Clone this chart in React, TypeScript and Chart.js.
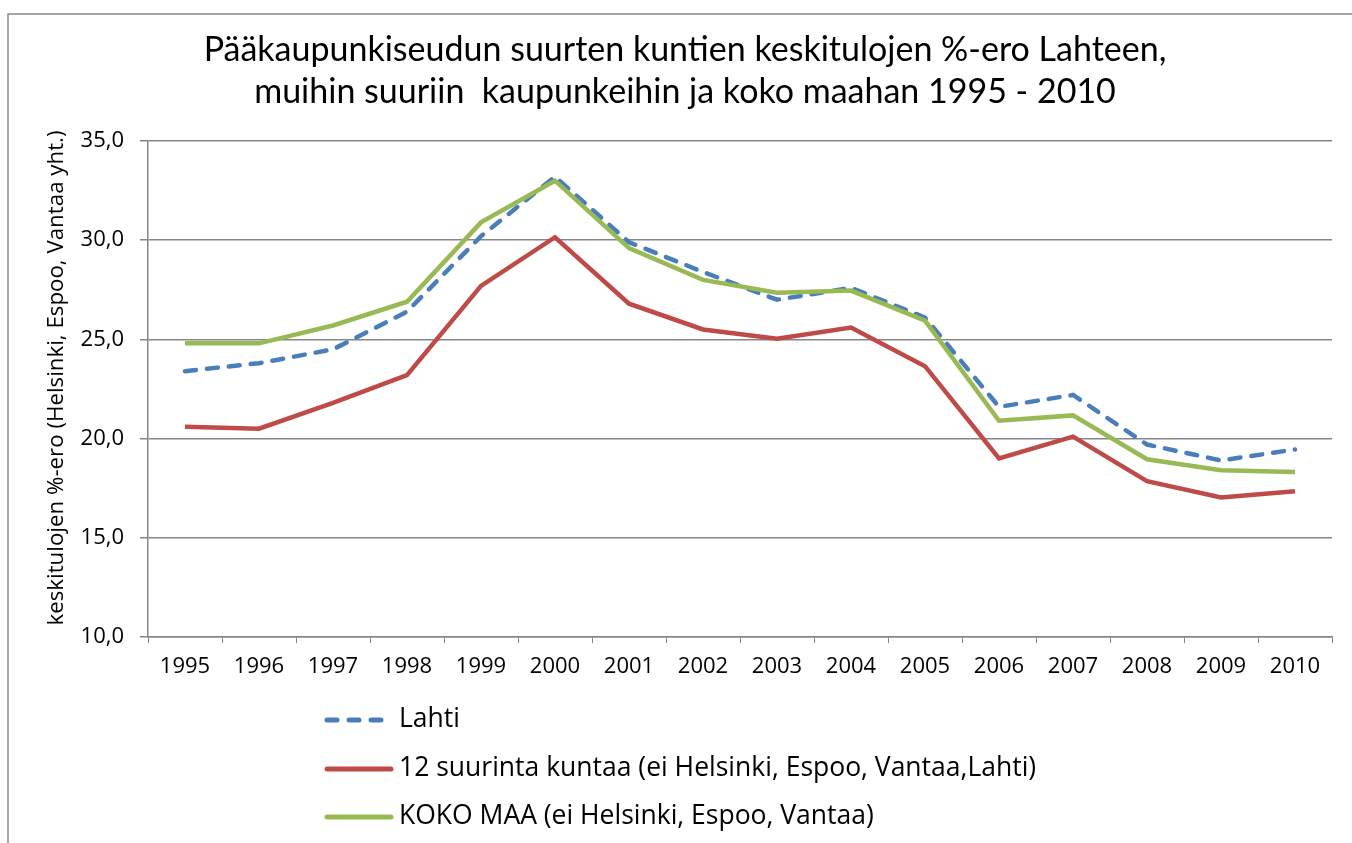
import React, { useEffect, useRef } from "react";
import { Chart, registerables } from "chart.js";

Chart.register(...registerables);

const years = ["1995","1996","1997","1998","1999","2000","2001","2002","2003","2004","2005","2006","2007","2008","2009","2010"];
const lahti = [23.4, 23.8, 24.5, 26.4, 30.2, 33.2, 29.9, 28.4, 27.0, 27.6, 26.1, 21.6, 22.2, 19.7, 18.9, 19.45];
const suurinta12 = [20.6, 20.5, 21.8, 23.2, 27.7, 30.15, 26.8, 25.5, 25.03, 25.6, 23.65, 19.0, 20.1, 17.85, 17.03, 17.35];
const kokoMaa = [24.8, 24.8, 25.7, 26.9, 30.9, 33.0, 29.6, 28.0, 27.35, 27.46, 25.95, 20.9, 21.17, 18.96, 18.4, 18.32];
const seriesLabels = [
  "Lahti",
  "12 suurinta kuntaa (ei Helsinki, Espoo, Vantaa,Lahti)",
  "KOKO MAA (ei Helsinki, Espoo, Vantaa)",
];
const titleLines = [
  "Pääkaupunkiseudun suurten kuntien keskitulojen %-ero Lahteen,",
  "muihin suuriin  kaupunkeihin ja koko maahan 1995 - 2010",
];
const yTitle = "keskitulojen %-ero (Helsinki, Espoo, Vantaa yht.)";

const GRID = "#868686";
const FONT = "'Open Sans', 'Noto Sans', sans-serif";

const decorPlugin = {
  id: "decor",
  afterDraw(chart: any) {
    const ctx = chart.ctx;
    ctx.save();
    // frame
    ctx.strokeStyle = "#8a8a8a";
    ctx.lineWidth = 1.5;
    ctx.strokeRect(8, 14, 1400, 900);
    // title
    ctx.fillStyle = "#000";
    ctx.textAlign = "center";
    ctx.textBaseline = "middle";
    ctx.font = `34px Lato, ${FONT}`;
    ctx.fillText(titleLines[0], 685, 50);
    ctx.fillText(titleLines[1], 685, 92);
    // y title
    ctx.save();
    ctx.translate(57, 378);
    ctx.rotate(-Math.PI / 2);
    ctx.font = `22.3px ${FONT}`;
    ctx.fillText(yTitle, 0, 0);
    ctx.restore();
    // legend
    const ys = [720, 769, 817];
    chart.data.datasets.forEach((ds: any, i: number) => {
      const y = ys[i];
      ctx.strokeStyle = ds.borderColor;
      ctx.lineWidth = 5;
      ctx.lineCap = "round";
      ctx.setLineDash(ds.borderDash && ds.borderDash.length ? [10, 12] : []);
      ctx.beginPath();
      ctx.moveTo(327, y);
      ctx.lineTo(391, y);
      ctx.stroke();
      ctx.setLineDash([]);
      ctx.fillStyle = "#000";
      ctx.textAlign = "left";
      ctx.textBaseline = "middle";
      ctx.font = `26.5px ${FONT}`;
      ctx.fillText(ds.label, 399, y - 1);
    });
    ctx.restore();
  },
};

export default function App() {
  const ref = useRef<HTMLCanvasElement>(null);
  useEffect(() => {
    if (!ref.current) return;
    const chart = new Chart(ref.current, {
      type: "line",
      data: {
        labels: years,
        datasets: [
          {
            label: seriesLabels[0],
            data: lahti,
            borderColor: "#4a7ebb",
            borderWidth: 4.5,
            borderDash: [11, 11],
            borderCapStyle: "round",
            pointRadius: 0,
            tension: 0,
            order: 1,
          },
          {
            label: seriesLabels[1],
            data: suurinta12,
            borderColor: "#be4b48",
            borderWidth: 4.5,
            pointRadius: 0,
            tension: 0,
            order: 2,
          },
          {
            label: seriesLabels[2],
            data: kokoMaa,
            borderColor: "#98b954",
            borderWidth: 4.5,
            pointRadius: 0,
            tension: 0,
            order: 0,
          },
        ],
      },
      options: {
        responsive: false,
        animation: false,
        layout: { padding: { left: 0, top: 141, right: 20, bottom: 156 } },
        plugins: {
          legend: { display: false },
          title: { display: false },
          tooltip: { enabled: false },
        },
        scales: {
          x: {
            type: "category",
            offset: true,
            grid: { offset: true, drawOnChartArea: false, tickLength: 6, color: GRID },
            border: { color: GRID, width: 1.5 },
            ticks: { color: "#000", font: { family: FONT, size: 22 }, padding: 11, maxRotation: 0, autoSkip: false },
            afterFit: (s: any) => { s.height = 50; },
          },
          y: {
            min: 10,
            max: 35,
            ticks: {
              stepSize: 5,
              color: "#000",
              font: { family: FONT, size: 22 },
              padding: 16,
              callback: (v: any) => Number(v).toFixed(1).replace(".", ","),
            },
            grid: { color: GRID, lineWidth: 1.5, tickLength: 8 },
            border: { color: GRID, width: 1.5 },
            afterFit: (s: any) => { s.width = 148; },
          },
        },
      },
      plugins: [decorPlugin],
    });
    return () => chart.destroy();
  }, []);
  return (
    <div style={{ position: "absolute", left: 0, top: 0, width: 1352, height: 843, background: "#fff" }}>
      <canvas ref={ref} width={1352} height={843} style={{ width: 1352, height: 843 }} />
    </div>
  );
}
